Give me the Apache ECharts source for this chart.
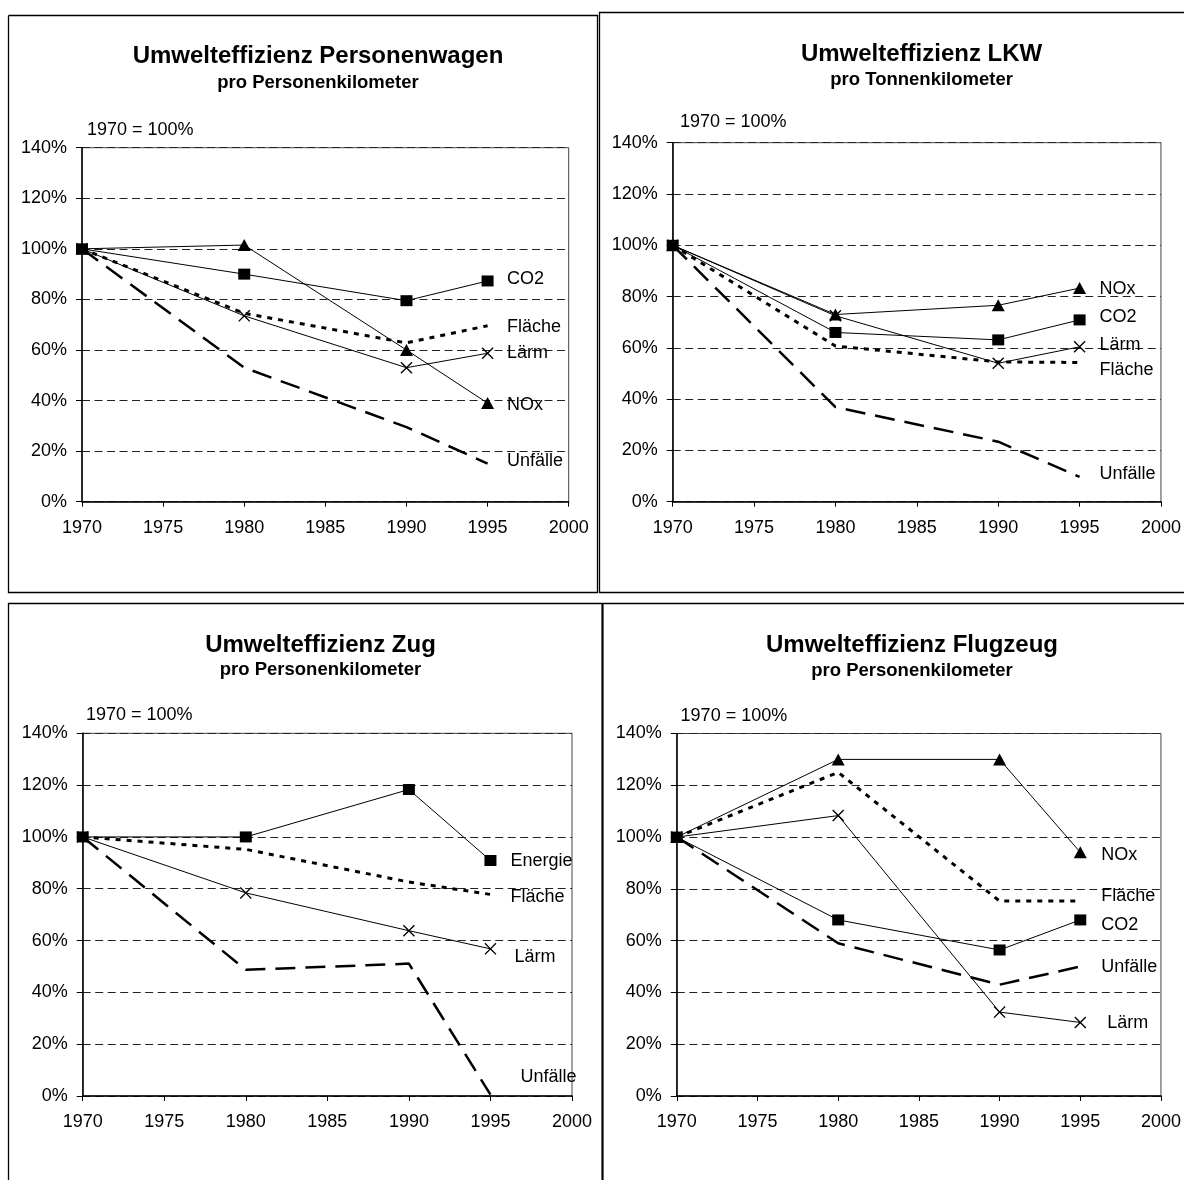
<!DOCTYPE html>
<html><head><meta charset="utf-8">
<script src="https://cdn.jsdelivr.net/npm/echarts@6/dist/echarts.min.js"></script>
<style>html,body{margin:0;padding:0;background:#fff}#c{width:1184px;height:1180px}</style>
</head><body><div id="c"></div>
<script>
// ---------- data ----------
const years = [1970, 1980, 1990, 1995];
const xTicks = [1970, 1975, 1980, 1985, 1990, 1995, 2000];
const yTicks = [0, 20, 40, 60, 80, 100, 120, 140];
const panelTitles = ['Umwelteffizienz Personenwagen', 'Umwelteffizienz LKW', 'Umwelteffizienz Zug', 'Umwelteffizienz Flugzeug'];
const panelSubtitles = ['pro Personenkilometer', 'pro Tonnenkilometer', 'pro Personenkilometer', 'pro Personenkilometer'];
const baseNote = '1970 = 100%';

// Personenwagen
const pkwCO2      = [100, 90, 79.5, 87.3];
const pkwNOx      = [100, 101.5, 60, 39];
const pkwLaerm    = [100, 73.5, 53, 58.7];
const pkwFlaeche  = [100, 74.5, 62.8, 69.6];
const pkwUnfaelle = [100, 53, 29.5, 15.1];

// LKW
const lkwNOx      = [100, 73, 76.6, 83.3];
const lkwCO2      = [100, 66, 63.1, 70.9];
const lkwLaerm    = [100, 72.5, 54, 60.4];
const lkwFlaeche  = [100, 60.7, 54.5, 54.3];
const lkwUnfaelle = [100, 36.9, 23.4, 9.7];

// Zug
const zugEnergie  = [100, 100, 118.3, 90.9];
const zugFlaeche  = [100, 95.2, 82.6, 77.8];
const zugLaerm    = [100, 78.4, 63.8, 56.8];
const zugUnfaelle = [100, 48.7, 51.1, 0.5];

// Flugzeug
const flugNOx      = [100, 130, 130, 94.1];
const flugFlaeche  = [100, 125, 75.3, 75.3];
const flugCO2      = [100, 68, 56.4, 68];
const flugLaerm    = [100, 108.3, 32.4, 28.4];
const flugUnfaelle = [100, 59, 43, 50];

// ---------- layout & style ----------
const FONT = '"Liberation Sans", Arial, Helvetica, sans-serif';
const panels = [
  {grid:{left:82, top:147.7, width:486.7, height:354}, title:[318,56.2], sub:[318,82.6], note:[87,130.5], dist:19.5},
  {grid:{left:672.7, top:142.7, width:490.3, height:359}, title:[921.6,53.9], sub:[921.6,79.9], note:[680,122], dist:20},
  {grid:{left:82.7, top:733.3, width:489.3, height:362.7}, title:[320.5,645.2], sub:[320.5,670.4], note:[86,715], dist:20},
  {grid:{left:676.8, top:733.5, width:489.9, height:362.5}, title:[912,645.4], sub:[912,670.6], note:[680.6,715.8], dist:21}
];
const XPATH = 'path://M0,0.8L0.8,0L5,4.2L9.2,0L10,0.8L5.8,5L10,9.2L9.2,10L5,5.8L0.8,10L0,9.2L4.2,5Z';
const kinds = {
  square:   {symbol:'rect', symbolSize:[12,11], lineStyle:{width:1, type:'solid'}},
  triangle: {symbol:'triangle', symbolSize:[13,12], lineStyle:{width:1, type:'solid'}},
  cross:    {symbol:XPATH, symbolSize:12, lineStyle:{width:1, type:'solid'}},
  dotted:   {symbol:'none', lineStyle:{width:3, type:[5,6]}},
  dashed:   {symbol:'none', lineStyle:{width:2.5, type:[20,10]}}
};

function mk(p, name, values, kind, off) {
  const k = kinds[kind];
  return {
    type:'line', name:name, xAxisIndex:p, yAxisIndex:p,
    data: years.map((y,i)=>[y, values[i]]),
    symbol:k.symbol, symbolSize:k.symbolSize, symbolKeepAspect:true, showSymbol:k.symbol!=='none',
    clip:false, silent:true,
    lineStyle:Object.assign({color:'#000', cap:'butt'}, k.lineStyle),
    itemStyle:{color:'#000'},
    endLabel:{show:true, formatter:name, distance:panels[p].dist, offset:off,
      color:'#000', fontSize:18, fontFamily:FONT},
    z: kind==='dotted'||kind==='dashed' ? 2 : 3
  };
}

const series = [
  mk(0,'CO2',pkwCO2,'square',[0,-2]),
  mk(0,'NOx',pkwNOx,'triangle',[0,2]),
  mk(0,'Lärm',pkwLaerm,'cross',[0,0]),
  mk(0,'Fläche',pkwFlaeche,'dotted',[0,1]),
  mk(0,'Unfälle',pkwUnfaelle,'dashed',[0,-2]),

  mk(1,'NOx',lkwNOx,'triangle',[0,1]),
  mk(1,'CO2',lkwCO2,'square',[0,-3]),
  mk(1,'Lärm',lkwLaerm,'cross',[0,-2]),
  mk(1,'Fläche',lkwFlaeche,'dotted',[0,8]),
  mk(1,'Unfälle',lkwUnfaelle,'dashed',[0,-3]),

  mk(2,'Energie',zugEnergie,'square',[0,1]),
  mk(2,'Fläche',zugFlaeche,'dotted',[0,3]),
  mk(2,'Lärm',zugLaerm,'cross',[4,8]),
  mk(2,'Unfälle',zugUnfaelle,'dashed',[10,-18]),

  mk(3,'NOx',flugNOx,'triangle',[0,3]),
  mk(3,'Fläche',flugFlaeche,'dotted',[0,-4.5]),
  mk(3,'CO2',flugCO2,'square',[0,5]),
  mk(3,'Unfälle',flugUnfaelle,'dashed',[0,0]),
  mk(3,'Lärm',flugLaerm,'cross',[6,1])
];

const grids = panels.map(p => Object.assign({show:true, borderColor:'#444', borderWidth:1, backgroundColor:'transparent', containLabel:false}, p.grid));
const xAxes = panels.map((p,i) => ({
  type:'value', gridIndex:i, min:xTicks[0], max:xTicks[xTicks.length-1], interval:xTicks[1]-xTicks[0],
  axisLine:{show:true, onZero:false, lineStyle:{color:'#000', width:1.5}},
  axisTick:{show:true, length:5, lineStyle:{color:'#000', width:1}},
  axisLabel:{show:true, margin:17, color:'#000', fontSize:18, fontFamily:FONT, formatter:v=>String(v)},
  splitLine:{show:false}
}));
const yAxes = panels.map((p,i) => ({
  type:'value', gridIndex:i, min:yTicks[0], max:yTicks[yTicks.length-1], interval:yTicks[1]-yTicks[0],
  axisLine:{show:true, onZero:false, lineStyle:{color:'#000', width:1.5}},
  axisTick:{show:true, length:6, lineStyle:{color:'#000', width:1}},
  axisLabel:{show:true, margin:15, color:'#000', fontSize:18, fontFamily:FONT, formatter:v=>v+'%'},
  splitLine:{show:true, lineStyle:{color:'#222', width:1, type:[8,4.5]}}
}));

const graphic = [];
function txt(x,y,text,font,align){
  graphic.push({type:'text', x:x, y:y, silent:true, style:{text:text, font:font, fill:'#000',
    align:align, textAlign:align, verticalAlign:'middle', textVerticalAlign:'middle'}});
}
panels.forEach((p,i)=>{
  txt(p.title[0], p.title[1], panelTitles[i], 'bold 24px '+FONT, 'center');
  txt(p.sub[0], p.sub[1], panelSubtitles[i], 'bold 18.5px '+FONT, 'center');
  txt(p.note[0], p.note[1], baseNote, '18px '+FONT, 'left');
});
function pl(points, w){
  graphic.push({type:'polyline', silent:true, shape:{points:points}, style:{stroke:'#000', lineWidth:w||1.3, fill:null}});
}
pl([[8.5,15.5],[597.5,15.5],[597.5,592.5],[8.5,592.5],[8.5,15.5]]);
pl([[1190,12.5],[599.5,12.5],[599.5,592.5],[1190,592.5]]);
pl([[8.5,1190],[8.5,603.5],[602,603.5]]);
pl([[602,603.5],[1190,603.5]]);
pl([[602.5,603],[602.5,1190]], 2.2);

const chart = echarts.init(document.getElementById('c'), null, {renderer:'canvas'});
chart.setOption({
  animation:false,
  backgroundColor:'#fff',
  textStyle:{fontFamily:FONT},
  grid:grids, xAxis:xAxes, yAxis:yAxes, series:series, graphic:graphic
});
</script>
</body></html>
